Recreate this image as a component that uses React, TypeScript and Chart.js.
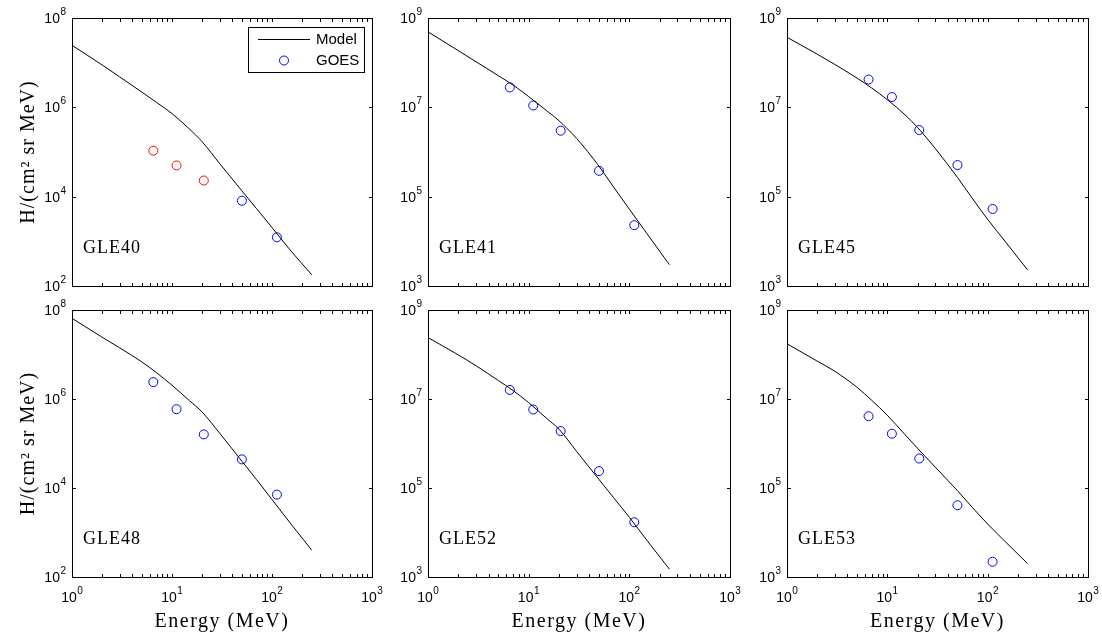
import React, { useEffect, useRef } from 'react';
import { Chart, registerables } from 'chart.js';

Chart.register(...registerables);

// ---------- data ----------
const MODEL_ENERGY = [1, 2, 3, 5, 7, 10, 15, 20, 30, 50, 70, 100, 150, 250];
const GOES_ENERGY = [6.5, 11.1, 20.8, 50, 112];

const GLE40_MODEL = [2.45e7, 8.9e6, 4.8e6, 2.19e6, 1.29e6, 7.24e5, 3.24e5, 1.7e5, 5.5e4, 1.35e4, 5.4e3, 2.04e3, 661, 178];
const GLE40_GOES = [null, null, null, 8.1e3, 1.23e3];
const GLE40_GOES_UNCORR = [1.07e5, 5.0e4, 2.3e4, null, null];

const GLE41_MODEL = [4.9e8, 1.86e8, 1.05e8, 5.1e7, 3.16e7, 1.74e7, 8.5e6, 5.0e6, 2.0e6, 4.8e5, 1.62e5, 5.25e4, 1.48e4, 3.0e3];
const GLE41_GOES = [2.8e7, 1.1e7, 3.0e6, 3.8e5, 2.3e4];

const GLE45_MODEL = [3.7e8, 1.55e8, 9.1e7, 4.5e7, 2.7e7, 1.48e7, 6.8e6, 3.55e6, 1.2e6, 2.7e5, 9.3e4, 3.1e4, 9.8e3, 2.3e3];
const GLE45_GOES = [4.2e7, 1.7e7, 3.1e6, 5.1e5, 5.3e4];

const GLE48_MODEL = [6.5e7, 2.45e7, 1.41e7, 6.8e6, 3.9e6, 2.04e6, 9.1e5, 5.1e5, 1.7e5, 4.0e4, 1.55e4, 5.5e3, 1.7e3, 400];
const GLE48_GOES = [2.4e6, 5.9e5, 1.6e5, 4.4e4, 7.1e3];

const GLE52_MODEL = [2.4e8, 9.8e7, 5.6e7, 2.6e7, 1.55e7, 8.3e6, 3.7e6, 2.1e6, 6.6e5, 1.55e5, 6.0e4, 2.2e4, 6.6e3, 1.5e3];
const GLE52_GOES = [1.6e7, 5.8e6, 1.9e6, 2.4e5, 1.7e4];

const GLE53_MODEL = [1.74e8, 7.1e7, 4.2e7, 1.82e7, 9.3e6, 4.3e6, 1.58e6, 7.8e5, 2.95e5, 8.7e4, 3.7e4, 1.55e4, 6.2e3, 2.0e3];
const GLE53_GOES = [4.1e6, 1.66e6, 4.6e5, 4.1e4, 2.2e3];

const X_TICK_EXPONENTS = [0, 1, 2, 3];
const Y_TICK_EXPONENTS_LOW = [2, 4, 6, 8];
const Y_TICK_EXPONENTS_HIGH = [3, 5, 7, 9];

const X_TITLE = 'Energy (MeV)';
const Y_TITLE = 'H/(cm\u00B2 sr MeV)';
const LEGEND_LABELS = ['Model', 'GOES'];

// ---------- layout ----------
type Panel = {
  name: string;
  model: number[];
  goes: (number | null)[];
  goesUncorr?: (number | null)[];
  yExp: number[];
  area: { l: number; t: number; r: number; b: number };
  canvas: { x: number; y: number; w: number; h: number };
  bottomRow: boolean;
  leftCol: boolean;
  legend: boolean;
};

const COLS = [
  { x: 0, w: 392, l: 72, r: 372 },
  { x: 392, w: 358, l: 428, r: 730 },
  { x: 750, w: 352, l: 787, r: 1088 },
];
const ROWS = [
  { y: 0, h: 298, t: 18, b: 286 },
  { y: 298, h: 341, t: 310, b: 577 },
];

function mk(name: string, model: number[], goes: (number | null)[], yExp: number[], c: number, r: number, extra: any = {}): Panel {
  const col = COLS[c];
  const row = ROWS[r];
  return {
    name,
    model,
    goes,
    yExp,
    area: { l: col.l, t: row.t, r: col.r, b: row.b },
    canvas: { x: col.x, y: row.y, w: col.w, h: row.h },
    bottomRow: r === 1,
    leftCol: c === 0,
    legend: false,
    ...extra,
  };
}

const PANELS: Panel[] = [
  mk('GLE40', GLE40_MODEL, GLE40_GOES, Y_TICK_EXPONENTS_LOW, 0, 0, { goesUncorr: GLE40_GOES_UNCORR, legend: true }),
  mk('GLE41', GLE41_MODEL, GLE41_GOES, Y_TICK_EXPONENTS_HIGH, 1, 0),
  mk('GLE45', GLE45_MODEL, GLE45_GOES, Y_TICK_EXPONENTS_HIGH, 2, 0),
  mk('GLE48', GLE48_MODEL, GLE48_GOES, Y_TICK_EXPONENTS_LOW, 0, 1),
  mk('GLE52', GLE52_MODEL, GLE52_GOES, Y_TICK_EXPONENTS_HIGH, 1, 1),
  mk('GLE53', GLE53_MODEL, GLE53_GOES, Y_TICK_EXPONENTS_HIGH, 2, 1),
];

const SANS = "'Liberation Sans', Arial, Helvetica, sans-serif";
const SERIF = "'Liberation Serif', 'Times New Roman', serif";
const BLUE = '#0000ff';
const RED = '#ff0000';

function drawPower(ctx: CanvasRenderingContext2D, exp: number, x: number, y: number, align: 'right' | 'center') {
  ctx.font = `14px ${SANS}`;
  const wb = ctx.measureText('10').width;
  ctx.font = `10px ${SANS}`;
  const we = ctx.measureText(String(exp)).width;
  const total = wb + we + 0.5;
  const x0 = align === 'right' ? x - total : x - total / 2;
  ctx.textAlign = 'left';
  ctx.font = `14px ${SANS}`;
  ctx.textBaseline = 'middle';
  ctx.fillText('10', x0, y + 1);
  ctx.font = `10px ${SANS}`;
  ctx.textBaseline = 'alphabetic';
  ctx.fillText(String(exp), x0 + wb + 0.5, y - 3);
}

function makeFramePlugin(p: Panel) {
  return {
    id: 'frame' + p.name,
    afterDatasetsDraw(chart: any) {
      const ctx: CanvasRenderingContext2D = chart.ctx;
      const { left, top, right, bottom } = chart.chartArea;
      const xs = chart.scales.x;
      const ys = chart.scales.y;
      ctx.save();
      ctx.fillStyle = '#000';
      ctx.strokeStyle = '#000';
      ctx.lineWidth = 1;

      // legend
      if (p.legend) {
        const bw = 116, bh = 45;
        const bx = right - 8 - bw;
        const by = top + 9;
        ctx.fillStyle = '#fff';
        ctx.fillRect(bx, by, bw, bh);
        ctx.strokeStyle = '#000';
        ctx.strokeRect(bx + 0.5, by + 0.5, bw, bh);
        const r1 = by + 12.5, r2 = by + 33.5;
        ctx.beginPath();
        ctx.moveTo(bx + 10, r1);
        ctx.lineTo(bx + 62, r1);
        ctx.stroke();
        ctx.strokeStyle = BLUE;
        ctx.beginPath();
        ctx.arc(bx + 36, r2, 4.5, 0, Math.PI * 2);
        ctx.stroke();
        ctx.fillStyle = '#000';
        ctx.font = `15px ${SANS}`;
        ctx.textAlign = 'left';
        ctx.textBaseline = 'middle';
        ctx.fillText(chart.data.datasets[0].label, bx + 68, r1 + 0.5);
        ctx.fillText(chart.data.datasets[1].label, bx + 68, r2 + 0.5);
      }

      // box
      ctx.strokeStyle = '#000';
      ctx.lineWidth = 1;
      ctx.strokeRect(left + 0.5, top + 0.5, right - left, bottom - top);

      // x ticks (major + minor), inward on bottom and top
      const tl = 3;
      ctx.beginPath();
      for (let k = X_TICK_EXPONENTS[0]; k < X_TICK_EXPONENTS[X_TICK_EXPONENTS.length - 1]; k++) {
        for (let m = 1; m <= 9; m++) {
          const px = Math.round(xs.getPixelForValue(m * Math.pow(10, k))) + 0.5;
          ctx.moveTo(px, bottom);
          ctx.lineTo(px, bottom - tl);
          ctx.moveTo(px, top + 1);
          ctx.lineTo(px, top + 1 + tl);
        }
      }
      // y ticks
      for (const e of p.yExp) {
        const py = Math.round(ys.getPixelForValue(Math.pow(10, e))) + 0.5;
        ctx.moveTo(left + 1, py);
        ctx.lineTo(left + 1 + tl, py);
        ctx.moveTo(right, py);
        ctx.lineTo(right - tl, py);
      }
      ctx.stroke();

      // y tick labels
      ctx.fillStyle = '#000';
      for (const e of p.yExp) {
        const py = ys.getPixelForValue(Math.pow(10, e));
        drawPower(ctx, e, left - 6, py, 'right');
      }
      // x tick labels
      if (p.bottomRow) {
        for (const e of X_TICK_EXPONENTS) {
          const px = xs.getPixelForValue(Math.pow(10, e));
          drawPower(ctx, e, px, bottom + 20, 'center');
        }
        ctx.font = `20px ${SERIF}`;
        (ctx as any).letterSpacing = '1.5px';
        ctx.textAlign = 'center';
        ctx.textBaseline = 'middle';
        ctx.fillText(X_TITLE, (left + right) / 2, bottom + 44.5);
        (ctx as any).letterSpacing = '0px';
      }
      // y title
      if (p.leftCol) {
        ctx.save();
        ctx.translate(28.5, (top + bottom) / 2);
        ctx.rotate(-Math.PI / 2);
        ctx.font = `20px ${SERIF}`;
        (ctx as any).letterSpacing = '1px';
        ctx.textAlign = 'center';
        ctx.textBaseline = 'middle';
        ctx.fillText(Y_TITLE, 0, 0);
        ctx.restore();
      }
      // event name
      ctx.font = `18px ${SERIF}`;
      (ctx as any).letterSpacing = '1px';
      ctx.textAlign = 'left';
      ctx.textBaseline = 'alphabetic';
      ctx.fillText(p.name, left + 11, bottom - 33);
      (ctx as any).letterSpacing = '0px';
      ctx.restore();
    },
  };
}

function PanelChart({ p }: { p: Panel }) {
  const ref = useRef<HTMLCanvasElement>(null);
  useEffect(() => {
    if (!ref.current) return;
    const datasets: any[] = [
      {
        label: LEGEND_LABELS[0],
        data: MODEL_ENERGY.map((e, i) => ({ x: e, y: p.model[i] })),
        borderColor: '#000',
        borderWidth: 1,
        pointRadius: 0,
        fill: false,
        cubicInterpolationMode: 'monotone',
      },
      {
        label: LEGEND_LABELS[1],
        data: GOES_ENERGY.map((e, i) => ({ x: e, y: p.goes[i] })),
        showLine: false,
        pointRadius: 4.5,
        pointBorderWidth: 1,
        pointBorderColor: BLUE,
        pointBackgroundColor: 'rgba(0,0,0,0)',
        borderColor: BLUE,
      },
    ];
    if (p.goesUncorr) {
      datasets.push({
        label: 'GOES (uncorrected)',
        data: GOES_ENERGY.map((e, i) => ({ x: e, y: p.goesUncorr![i] })),
        showLine: false,
        pointRadius: 4.5,
        pointBorderWidth: 1,
        pointBorderColor: RED,
        pointBackgroundColor: 'rgba(0,0,0,0)',
        borderColor: RED,
      });
    }
    const a = p.area, c = p.canvas;
    const chart = new Chart(ref.current, {
      type: 'line',
      data: { datasets },
      options: {
        animation: false,
        responsive: false,
        maintainAspectRatio: false,
        devicePixelRatio: 1,
        events: [],
        layout: {
          padding: {
            left: a.l - c.x,
            top: a.t - c.y,
            right: c.x + c.w - a.r,
            bottom: c.y + c.h - a.b,
          },
        },
        plugins: {
          legend: { display: false },
          tooltip: { enabled: false },
          title: { display: false },
        },
        scales: {
          x: {
            type: 'logarithmic',
            min: Math.pow(10, X_TICK_EXPONENTS[0]),
            max: Math.pow(10, X_TICK_EXPONENTS[X_TICK_EXPONENTS.length - 1]),
            display: false,
          },
          y: {
            type: 'logarithmic',
            min: Math.pow(10, p.yExp[0]),
            max: Math.pow(10, p.yExp[p.yExp.length - 1]),
            display: false,
          },
        },
      } as any,
      plugins: [makeFramePlugin(p)],
    });
    return () => chart.destroy();
  }, [p]);
  return (
    <canvas
      ref={ref}
      width={p.canvas.w}
      height={p.canvas.h}
      style={{
        position: 'absolute',
        left: p.canvas.x,
        top: p.canvas.y,
        width: p.canvas.w,
        height: p.canvas.h,
      }}
    />
  );
}

export default function App() {
  return (
    <div
      style={{
        position: 'absolute',
        left: 0,
        top: 0,
        width: 1102,
        height: 639,
        background: '#fff',
        overflow: 'hidden',
      }}
    >
      {PANELS.map((p) => (
        <PanelChart key={p.name} p={p} />
      ))}
    </div>
  );
}
